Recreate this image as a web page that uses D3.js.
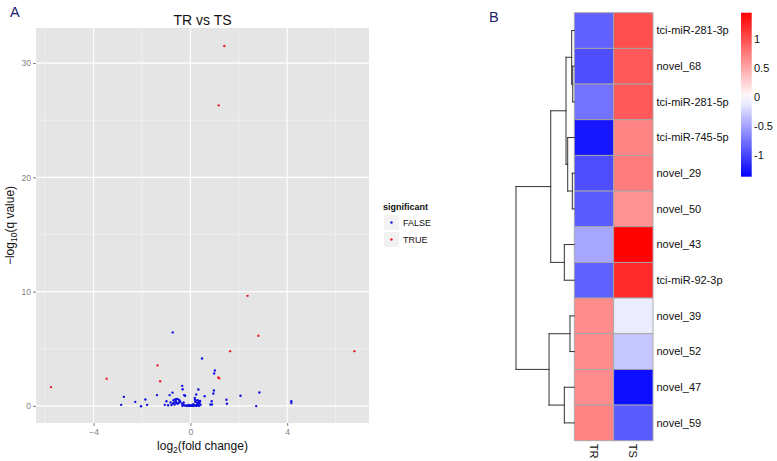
<!DOCTYPE html>
<html><head><meta charset="utf-8">
<script src="https://cdn.jsdelivr.net/npm/d3@7"></script>
<style>body{margin:0;background:#fff}svg{display:block;font-family:"Liberation Sans",Arial,sans-serif}</style>
</head><body>
<svg id="c" width="777" height="461"></svg>
<script>
// ---------- Panel A data (volcano) ----------
const redX = [1.40, 1.17, 2.36, 2.81, 1.64, 6.78, -1.36, -3.46, -5.76, -1.25, 1.15, 1.19];
const redY = [31.5, 26.3, 9.63, 6.13, 4.79, 4.79, 3.54, 2.37, 1.64, 2.16, 2.49, 2.42];
const bluePts = [
 [-0.73,6.43],[0.48,4.15],[1.01,3.10],[0.98,2.84],[-0.34,1.75],[-0.32,1.46],[0.33,1.43],[0.97,1.34],[0.95,1.08],
 [-0.74,1.16],[-0.86,0.94],[-1.38,0.94],[-2.75,0.79],[-1.86,0.56],[-2.28,0.35],[-2.86,0.09],[-2.04,-0.03],[-1.79,0.09],
 [-0.99,0.41],[-1.06,0.09],[-0.92,0.06],[0.59,0.85],[-0.26,0.94],[-0.22,0.88],[1.49,0.53],[1.51,0.18],[0.89,0.12],
 [2.07,0.88],[2.85,1.17],[2.72,-0.02],[4.17,0.41],[4.17,0.24],[0.24,1.0],[0.88,0.41],[0.83,0.12],
 [-0.70,0.50],[-0.62,0.58],[-0.55,0.60],[-0.48,0.55],[-0.44,0.45],[-0.42,0.35],[-0.68,0.30],[-0.72,0.20],[-0.65,0.12],
 [-0.58,0.25],[-0.52,0.18],[-0.47,0.30],[-0.60,0.40],[-0.78,0.08],[-0.82,0.30],
 [-0.35,0.20],[-0.30,0.10],[-0.25,0.05],[-0.20,0.02],[-0.15,0.0],[-0.10,0.0],[-0.05,0.0],[0.0,0.0],[0.05,0.0],[0.10,0.0],
 [0.15,0.01],[0.20,0.03],[0.25,0.06],[0.30,0.12],[0.35,0.20],[0.38,0.30],[0.40,0.42],[0.20,0.35],[0.19,0.55],[0.18,0.70],
 [0.22,0.45],[0.30,0.50],[0.35,0.38],[0.12,0.15],[-0.08,0.08],[-0.12,0.04],[0.02,0.05],[-0.02,0.02],[0.08,0.03],[0.28,0.25],
 [0.33,0.05],[-0.28,0.30],[0.42,0.10],[0.26,0.0],[-0.33,0.01],[0.36,0.0]
];
const xTicks = [-4, 0, 4];
const xMinor = [-6, -2, 2, 6];
const yTicks = [0, 10, 20, 30];
const yMinor = [5, 15, 25];
const legendLabels = ["FALSE", "TRUE"];

// ---------- Panel B data (heatmap) ----------
const rowNames = ["tci-miR-281-3p","novel_68","tci-miR-281-5p","tci-miR-745-5p","novel_29","novel_50",
                  "novel_43","tci-miR-92-3p","novel_39","novel_52","novel_47","novel_59"];
const colNames = ["TR","TS"];
const valTR = [-0.85,-0.95,-0.75,-1.25,-0.95,-0.88,-0.48,-0.85,0.66,0.66,0.66,0.70];
const valTS = [1.00,0.95,0.95,0.70,0.75,0.62,1.45,1.22,-0.10,-0.30,-1.30,-0.88];
const legendTicks = [1, 0.5, 0, -0.5, -1];
// dendrogram merges: [left, right, height]; leaves are 0..11, internal nodes 12..
const merges = [
  [1, 2, 0.27],   //12
  [0, 12, 0.45],  //13
  [4, 5, 0.34],   //14
  [3, 14, 1.13],  //15
  [13, 15, 1.42], //16
  [6, 7, 1.71],   //17
  [16, 17, 4.04], //18
  [8, 9, 0.74],   //19
  [10, 11, 1.71], //20
  [19, 20, 4.33], //21
  [18, 21, 10.0]  //22
];

const svg = d3.select("#c");

// ================= Panel A =================
const pL = 36, pR = 369, pT = 28, pB = 423;
const x = d3.scaleLinear().domain([-6.38, 7.38]).range([pL, pR]);
const y = d3.scaleLinear().domain([-1.5, 33.07]).range([pB, pT]);

const gA = svg.append("g");
gA.append("rect").attr("x", pL).attr("y", pT).attr("width", pR - pL).attr("height", pB - pT).attr("fill", "#e5e5e5");
gA.selectAll("line.xm").data(xMinor).join("line")
  .attr("x1", d => x(d)).attr("x2", d => x(d)).attr("y1", pT).attr("y2", pB)
  .attr("stroke", "#f2f2f2").attr("stroke-width", 0.7);
gA.selectAll("line.ym").data(yMinor).join("line")
  .attr("y1", d => y(d)).attr("y2", d => y(d)).attr("x1", pL).attr("x2", pR)
  .attr("stroke", "#f2f2f2").attr("stroke-width", 0.7);
gA.selectAll("line.xg").data(xTicks).join("line")
  .attr("x1", d => x(d)).attr("x2", d => x(d)).attr("y1", pT).attr("y2", pB)
  .attr("stroke", "#fff").attr("stroke-width", 1.1);
gA.selectAll("line.yg").data(yTicks).join("line")
  .attr("y1", d => y(d)).attr("y2", d => y(d)).attr("x1", pL).attr("x2", pR)
  .attr("stroke", "#fff").attr("stroke-width", 1.1);

// axes
const xAxis = d3.axisBottom(x).tickValues(xTicks).tickSize(3).tickPadding(3);
const gx = gA.append("g").attr("transform", `translate(0,${pB})`).call(xAxis);
const yAxis = d3.axisLeft(y).tickValues(yTicks).tickSize(3).tickPadding(2);
const gy = gA.append("g").attr("transform", `translate(${pL},0)`).call(yAxis);
[gx, gy].forEach(g => {
  g.select(".domain").remove();
  g.selectAll(".tick line").attr("stroke", "#7f7f7f");
  g.selectAll(".tick text").attr("fill", "#7f7f7f").attr("font-size", 8.5)
    .attr("font-family", "Liberation Sans, Arial, sans-serif");
});

// points
gA.append("g").selectAll("circle").data(bluePts).join("circle")
  .attr("cx", d => x(d[0])).attr("cy", d => y(d[1])).attr("r", 1.2).attr("fill", "#1010e0");
gA.append("g").selectAll("circle").data(redX.map((v, i) => [v, redY[i]])).join("circle")
  .attr("cx", d => x(d[0])).attr("cy", d => y(d[1])).attr("r", 1.2).attr("fill", "#e8202a");

// title and labels
gA.append("text").attr("x", (pL + pR) / 2).attr("y", 25).attr("text-anchor", "middle")
  .attr("font-size", 14).attr("fill", "#111").text("TR vs TS");
gA.append("text").attr("x", 10).attr("y", 17).attr("font-size", 14.5).attr("fill", "#1c1c6b").text("A");
const xl = gA.append("text").attr("x", (pL + pR) / 2).attr("y", 450).attr("text-anchor", "middle")
  .attr("font-size", 12).attr("fill", "#111");
xl.append("tspan").text("log");
xl.append("tspan").attr("font-size", 8.5).attr("dy", 3).text("2");
xl.append("tspan").attr("dy", -3).text("(fold change)");
const yl = gA.append("text").attr("transform", `translate(14,${(pT + pB) / 2}) rotate(-90)`)
  .attr("text-anchor", "middle").attr("font-size", 12).attr("fill", "#111");
yl.append("tspan").text("\u2212log");
yl.append("tspan").attr("font-size", 8.5).attr("dy", 3).text("10");
yl.append("tspan").attr("dy", -3).text("(q value)");

// legend
const lg = gA.append("g");
lg.append("text").attr("x", 383).attr("y", 210).attr("font-size", 9).attr("font-weight", "bold")
  .attr("fill", "#111").text("significant");
const legCols = ["#1010e0", "#e8202a"];
legendLabels.forEach((lab, i) => {
  const ky = 215 + i * 17;
  lg.append("rect").attr("x", 384).attr("y", ky).attr("width", 15).attr("height", 15).attr("fill", "#f2f2f2");
  lg.append("circle").attr("cx", 391.5).attr("cy", ky + 7.5).attr("r", 1.2).attr("fill", legCols[i]);
  lg.append("text").attr("x", 403).attr("y", ky + 7.5).attr("dy", "0.35em").attr("font-size", 9)
    .attr("fill", "#111").text(lab);
});

// ================= Panel B =================
const hL = 574.3, hT = 12.7, cellW = 39.35, cellH = 35.67;
const color = d3.scaleLinear().domain([-1.37, 0, 1.46]).range(["#0000ff", "#ffffff", "#ff0000"]);
const gB = svg.append("g");
gB.append("text").attr("x", 489).attr("y", 22).attr("font-size", 14.5).attr("fill", "#1c1c6b").text("B");

const rowY = d3.scaleBand().domain(d3.range(rowNames.length)).range([hT, hT + cellH * rowNames.length]);
const colX = d3.scaleBand().domain(colNames).range([hL, hL + cellW * 2]);
const cells = [];
rowNames.forEach((r, i) => {
  cells.push({ r: i, c: "TR", v: valTR[i] });
  cells.push({ r: i, c: "TS", v: valTS[i] });
});
gB.selectAll("rect.cell").data(cells).join("rect")
  .attr("x", d => colX(d.c)).attr("y", d => rowY(d.r))
  .attr("width", colX.bandwidth()).attr("height", rowY.bandwidth())
  .attr("fill", d => color(d.v)).attr("stroke", "#a6a6a6").attr("stroke-width", 0.9);
gB.selectAll("text.row").data(rowNames).join("text")
  .attr("x", hL + cellW * 2 + 3.5).attr("y", (d, i) => rowY(i) + rowY.bandwidth() / 2)
  .attr("dy", "0.35em").attr("font-size", 11).attr("fill", "#111").text(d => d);
gB.selectAll("text.col").data(colNames).join("text")
  .attr("transform", d => `translate(${colX(d) + colX.bandwidth() / 2 - 4},${hT + cellH * 12 + 3}) rotate(90)`)
  .attr("font-size", 11).attr("fill", "#111").text(d => d);

// dendrogram
const nLeaf = rowNames.length;
const maxH = d3.max(merges, m => m[2]);
const hx = d3.scaleLinear().domain([0, maxH]).range([hL, 516]);
const nodeY = rowNames.map((_, i) => rowY(i) + rowY.bandwidth() / 2);
const nodeH = rowNames.map(() => 0);
const segs = [];
merges.forEach(m => {
  const [a, b, h] = m;
  const xx = hx(h);
  segs.push([hx(nodeH[a]), nodeY[a], xx, nodeY[a]]);
  segs.push([hx(nodeH[b]), nodeY[b], xx, nodeY[b]]);
  segs.push([xx, nodeY[a], xx, nodeY[b]]);
  nodeY.push((nodeY[a] + nodeY[b]) / 2);
  nodeH.push(h);
});
gB.selectAll("line.dend").data(segs).join("line")
  .attr("x1", d => d[0]).attr("y1", d => d[1]).attr("x2", d => d[2]).attr("y2", d => d[3])
  .attr("stroke", "#333").attr("stroke-width", 1).attr("stroke-linecap", "square");

// color legend
const lgY = d3.scaleLinear().domain([-1.37, 1.46]).range([176.7, 12.7]);
const defs = svg.append("defs");
const grad = defs.append("linearGradient").attr("id", "hg").attr("x1", 0).attr("y1", 1).attr("x2", 0).attr("y2", 0);
d3.range(0, 1.0001, 0.05).forEach(t => {
  const v = -1.37 + t * (1.46 + 1.37);
  grad.append("stop").attr("offset", t).attr("stop-color", color(v));
});
gB.append("rect").attr("x", 741).attr("y", 12.7).attr("width", 10.7).attr("height", 164).attr("fill", "url(#hg)");
gB.selectAll("text.lt").data(legendTicks).join("text")
  .attr("x", 754).attr("y", d => lgY(d)).attr("dy", "0.35em").attr("font-size", 11).attr("fill", "#111")
  .text(d => d);
</script>
</body></html>
